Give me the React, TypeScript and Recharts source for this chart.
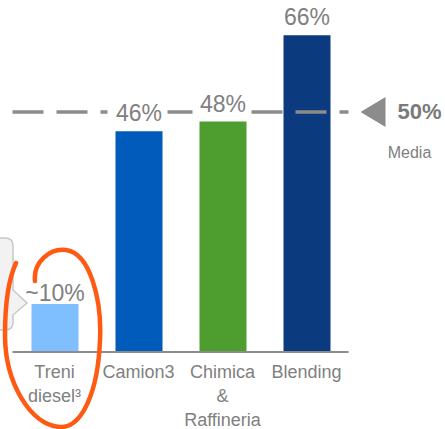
import { BarChart, Bar, XAxis, YAxis, ReferenceLine, LabelList, Cell } from "recharts";

const categories = ["Treni\ndiesel³", "Camion3", "Chimica\n&\nRaffineria", "Blending"];
const values = [10, 46, 48, 66];
const valueLabels = ["~10%", "46%", "48%", "66%"];
const barColors = ["#80bfff", "#005bbb", "#4e9d2f", "#0b3a7e"];

const averageValue = 50;
const averageLabel = "50%";
const averageName = "Media";

const FONT = "'Liberation Sans', Arial, sans-serif";
const GREY = "#808080";

const data = categories.map((name, i) => ({ name, value: values[i], label: valueLabels[i] }));

const CategoryTick = ({ x, y, payload }: any) => {
  const lines = String(payload.value).split("\n");
  return (
    <text x={x} y={y} textAnchor="middle" fill={GREY} fontSize={18} fontFamily={FONT}>
      {lines.map((line, i) => (
        <tspan key={i} x={x} dy={i === 0 ? 18 : 24}>
          {line}
        </tspan>
      ))}
    </text>
  );
};

const ValueLabel = ({ x, y, width, value, index }: any) => {
  const gap = index === 0 ? 3 : 10;
  return (
    <text
      x={x + width / 2}
      y={y - gap}
      textAnchor="middle"
      fill={GREY}
      fontSize={23}
      fontFamily={FONT}
    >
      {value}
    </text>
  );
};

const AverageMarker = ({ viewBox }: any) => {
  const { x, y, width } = viewBox;
  const tip = x + width + 12;
  return (
    <g>
      <polygon points={`${tip},${y} ${tip + 25},${y - 15} ${tip + 25},${y + 15}`} fill="#8c8c8c" />
      <text x={tip + 37} y={y + 7} fill="#7a7a7a" fontSize={22} fontWeight="bold" fontFamily={FONT}>
        {averageLabel}
      </text>
      <text x={tip + 49} y={y + 46} textAnchor="middle" fill={GREY} fontSize={16} fontFamily={FONT}>
        {averageName}
      </text>
    </g>
  );
};

export default function App() {
  return (
    <div style={{ position: "absolute", left: 0, top: 0, width: 445, height: 429, background: "#fff" }}>
      <BarChart
        width={445}
        height={429}
        data={data}
        margin={{ top: 16, right: 96.5, left: 12.5, bottom: 47 }}
        barSize={47}
      >
        <YAxis hide domain={[0, 70]} />
        <XAxis
          dataKey="name"
          interval={0}
          height={30}
          tickLine={false}
          axisLine={{ stroke: "#8c8c8c", strokeWidth: 2 }}
          tick={<CategoryTick />}
        />
        <Bar dataKey="value" isAnimationActive={false}>
          {data.map((_, i) => (
            <Cell key={i} fill={barColors[i]} />
          ))}
          <LabelList dataKey="label" content={<ValueLabel />} />
        </Bar>
        <ReferenceLine
          y={averageValue}
          stroke="#8c8c8c"
          strokeWidth={3.5}
          strokeDasharray="31 13 31 13 7 60 25 59 31 13 31 13 9 200"
          label={<AverageMarker />}
        />
      </BarChart>
      <svg width={445} height={429} style={{ position: "absolute", left: 0, top: 0, pointerEvents: "none" }}>
        <path
          d="M -20 238 L 5 238 Q 13 238 13 246 L 13 290 L 27 303 L 13 315 L 13 322 Q 13 330 5 330 L -20 330 Z"
          fill="#f2f2f2"
          stroke="#c8c8c8"
          strokeWidth={1.5}
        />
        <path
          d="M 35 281 C 33 262, 50 248, 66 250 C 90 253, 102 300, 100 340 C 98 392, 82 428, 60 427 C 30 425, 5 382, 5 335 C 5 302, 9 278, 16 263"
          fill="none"
          stroke="#ff5a14"
          strokeWidth={4.5}
          strokeLinecap="round"
        />
      </svg>
    </div>
  );
}
